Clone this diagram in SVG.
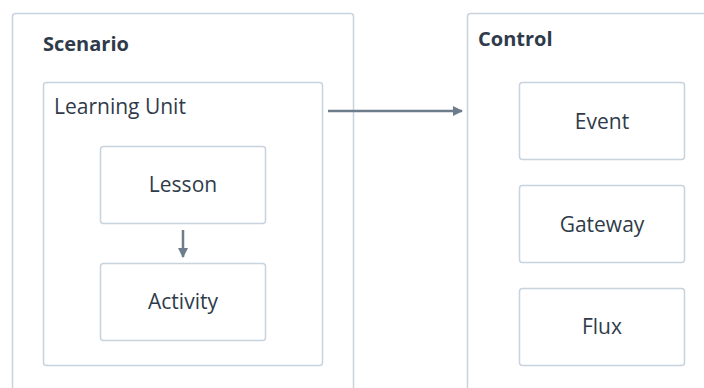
<svg xmlns="http://www.w3.org/2000/svg" width="704" height="388" viewBox="0 0 704 388">
<style>
.box{fill:#ffffff;stroke:#c8d3de;stroke-width:1.5}
.t{font-family:"Open Sans","Noto Sans",sans-serif;font-size:21px;fill:#2f3b4a}
.c{text-anchor:middle}
.b{font-weight:bold;font-size:20px}
.conn{stroke:#6e7d8c;stroke-width:2.5;fill:none}
</style>
<defs>
<marker id="ah" viewBox="0 0 10 10" refX="9" refY="5" markerWidth="4" markerHeight="4" orient="auto" markerUnits="strokeWidth">
<path d="M0,0 L10,5 L0,10 z" fill="#6e7d8c"/>
</marker>
</defs>
<rect width="704" height="388" fill="#ffffff"/>
<g id="scenario">
<rect class="box" x="12.5" y="13.5" width="341" height="400" rx="3"/>
<text class="t b" x="43" y="51">Scenario</text>
</g>
<g id="learning-unit">
<rect class="box" x="43.5" y="82.5" width="279" height="283" rx="3"/>
<text class="t" x="54" y="114">Learning Unit</text>
</g>
<g id="lesson">
<rect class="box" x="100.5" y="146.5" width="165" height="77" rx="3"/>
<text class="t c" x="183" y="192">Lesson</text>
</g>
<g id="activity">
<rect class="box" x="100.5" y="263.5" width="165" height="77" rx="3"/>
<text class="t c" x="183" y="309">Activity</text>
</g>
<g id="control">
<rect class="box" x="467.5" y="13.5" width="260" height="400" rx="3"/>
<text class="t b" x="478" y="46">Control</text>
</g>
<g id="event">
<rect class="box" x="519.5" y="82.5" width="165" height="77" rx="3"/>
<text class="t c" x="602" y="128.5">Event</text>
</g>
<g id="gateway">
<rect class="box" x="519.5" y="185.5" width="165" height="77" rx="3"/>
<text class="t c" x="602" y="231.5">Gateway</text>
</g>
<g id="flux">
<rect class="box" x="519.5" y="288.5" width="165" height="77" rx="3"/>
<text class="t c" x="602" y="334">Flux</text>
</g>
<g id="connectors">
<line class="conn" x1="328" y1="111" x2="462" y2="111" marker-end="url(#ah)"/>
<line class="conn" x1="183" y1="230" x2="183" y2="257" marker-end="url(#ah)"/>
</g>
</svg>
